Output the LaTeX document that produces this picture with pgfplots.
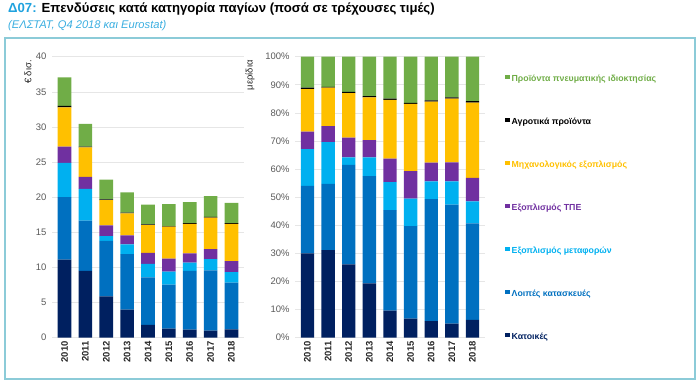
\documentclass[border=0pt]{standalone}
\usepackage{fontspec}
\setmainfont{Liberation Sans}
\usepackage{pgfplots}
\usepackage{pgfplotstable}
\pgfplotsset{compat=1.18}
\definecolor{cNav}{HTML}{002060}
\definecolor{cBlu}{HTML}{0070C0}
\definecolor{cLbl}{HTML}{00B0F0}
\definecolor{cPur}{HTML}{7030A0}
\definecolor{cYel}{HTML}{FFC000}
\definecolor{cBlk}{HTML}{000000}
\definecolor{cGrn}{HTML}{70AD47}
\definecolor{cTitle}{HTML}{1FA2DE}
\definecolor{cSub}{HTML}{3AAEE0}
\definecolor{cFrame}{HTML}{8CCBD8}
\definecolor{cGrid}{HTML}{E6E6E6}
\definecolor{cTick}{HTML}{595959}

\pgfplotstableread{
x nav blu lbl pur yel blk grn
0 11.1 8.9 4.9 2.3 5.6 0.2 4.05
1 9.5 7.15 4.55 1.7 4.2 0.1 3.25
2 5.87 7.93 0.65 1.55 3.6 0.1 2.8
3 4.0 7.9 1.4 1.25 3.15 0.1 2.9
4 1.82 6.78 1.9 1.57 3.96 0.1 2.82
5 1.29 6.26 1.85 1.87 4.53 0.1 3.1
6 1.14 8.36 1.2 1.3 4.2 0.1 3.0
7 1.0 8.6 1.6 1.4 4.5 0.1 2.96
8 1.2 6.65 1.5 1.55 5.3 0.1 2.9
}\abs

\pgfplotstableread{
x nav blu lbl pur yel blk grn
0 30.0 24.0 13.1 6.2 15.2 0.5 11.0
1 31.2 23.5 14.9 5.7 13.7 0.3 10.7
2 26.1 35.4 2.7 7.0 15.8 0.5 12.5
3 19.3 38.2 6.7 6.1 15.2 0.5 14.0
4 9.6 35.8 10.0 8.3 20.9 0.5 14.9
5 6.8 32.9 9.8 9.8 23.9 0.4 16.4
6 5.9 43.4 6.3 6.7 21.7 0.5 15.5
7 5.0 42.4 8.2 6.8 22.7 0.4 14.5
8 6.3 34.4 7.8 8.4 26.8 0.5 15.8
}\pct

\pgfplotsset{
  common/.style={
    anchor=south west, scale only axis,
    ybar stacked, bar width=0.65,
    xmin=-0.6, xmax=8.6, ymin=0,
    xtick={0,...,8},
    xticklabels={2010,2011,2012,2013,2014,2015,2016,2017,2018},
    ymajorgrids, grid style={draw=cGrid, line width=0.6bp},
    axis line style={draw=none},
    major tick length=0pt,
    /pgf/number format/assume math mode=true,
    yticklabel style={font=\fontsize{9.5}{11}\selectfont, text=cTick, xshift=-2bp},
    xticklabel style={rotate=90, anchor=east, font=\bfseries\fontsize{9.5}{11}\selectfont, text=black!85},
    ylabel style={anchor=east, font=\fontsize{9.5}{10}\selectfont, text=black!85},
    every axis plot/.append style={draw=none},
  }
}

\begin{document}
\begin{tikzpicture}
\path[use as bounding box] (0bp,0bp) rectangle (700bp,387bp);
\draw[cFrame, line width=1.3bp] (5bp,8bp) rectangle (695bp,349bp);
\node[anchor=base west, inner sep=0, font=\bfseries\fontsize{13.2}{15}\selectfont] at (8bp,374bp) {\textcolor{cTitle}{Δ07:} Επενδύσεις κατά κατηγορία παγίων (ποσά σε τρέχουσες τιμές)};
\node[anchor=base west, inner sep=0, font=\itshape\fontsize{11.2}{13}\selectfont, text=cSub] at (8bp,358bp) {(ΕΛΣΤΑΤ, Q4 2018 και Eurostat)};

\begin{axis}[common,
  at={(52bp,49.3bp)}, width=192bp, height=281bp,
  ymax=40, ytick={0,5,...,40},
  ylabel={€ δισ.},
  ylabel style={at={(axis description cs:-0.125,1)}},
]
\addplot[fill=cNav] table[x=x,y=nav]{\abs};
\addplot[fill=cBlu] table[x=x,y=blu]{\abs};
\addplot[fill=cLbl] table[x=x,y=lbl]{\abs};
\addplot[fill=cPur] table[x=x,y=pur]{\abs};
\addplot[fill=cYel] table[x=x,y=yel]{\abs};
\addplot[fill=cBlk] table[x=x,y=blk]{\abs};
\addplot[fill=cGrn] table[x=x,y=grn]{\abs};
\end{axis}

\begin{axis}[common,
  at={(295.1bp,49.3bp)}, width=189.75bp, height=281bp,
  ymax=100, ytick={0,10,...,100},
  yticklabel={\pgfmathprintnumber{\tick}\%},
  ylabel={μερίδια},
  ylabel style={at={(axis description cs:-0.238,1)}},
  reverse legend,
  legend cell align=left,
  legend image code/.code={\fill[#1] (0bp,0bp) rectangle (4.5bp,4.5bp);},
  legend style={at={(axis description cs:1.106,0.937)}, anchor=north west,
    draw=none, fill=none, inner sep=0pt, row sep=34bp, column sep=2bp,
    font=\bfseries\fontsize{8.8}{10}\selectfont,
    nodes={inner sep=0pt, text height=7bp, text depth=2bp}},
]
\addplot[fill=cNav] table[x=x,y=nav]{\pct};
\addlegendentry{\textcolor{cNav}{Κατοικές}}
\addplot[fill=cBlu] table[x=x,y=blu]{\pct};
\addlegendentry{\textcolor{cBlu}{Λοιπές κατασκευές}}
\addplot[fill=cLbl] table[x=x,y=lbl]{\pct};
\addlegendentry{\textcolor{cLbl}{Εξοπλισμός μεταφορών}}
\addplot[fill=cPur] table[x=x,y=pur]{\pct};
\addlegendentry{\textcolor{cPur}{Εξοπλισμός ΤΠΕ}}
\addplot[fill=cYel] table[x=x,y=yel]{\pct};
\addlegendentry{\textcolor{cYel}{Μηχανολογικός εξοπλισμός}}
\addplot[fill=cBlk] table[x=x,y=blk]{\pct};
\addlegendentry{\textcolor{cBlk}{Αγροτικά προϊόντα}}
\addplot[fill=cGrn] table[x=x,y=grn]{\pct};
\addlegendentry{\textcolor{cGrn}{Προϊόντα πνευματικής ιδιοκτησίας}}
\end{axis}
\end{tikzpicture}
\end{document}
